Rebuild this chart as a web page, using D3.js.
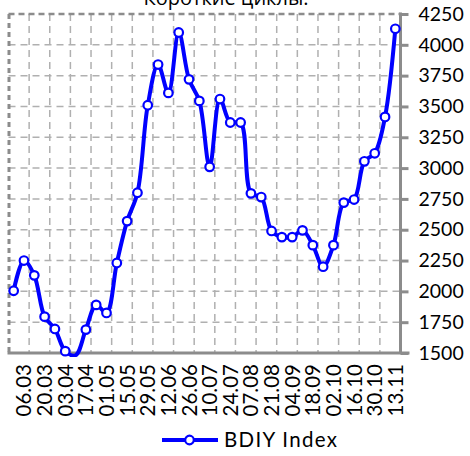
<!DOCTYPE html>
<html><head><meta charset="utf-8">
<script src="https://cdn.jsdelivr.net/npm/d3@7"></script>
<style>
html,body{margin:0;padding:0;background:#fff;}
svg{display:block;}
</style></head>
<body>
<svg id="chart" width="470" height="456"></svg>
<script>
const title = "Короткие циклы.";
const seriesName = "BDIY Index";
const dates = ["27.02","06.03","13.03","20.03","27.03","03.04","10.04","17.04","24.04","01.05",
  "08.05","15.05","22.05","29.05","05.06","12.06","19.06","26.06","03.07","10.07",
  "17.07","24.07","31.07","07.08","14.08","21.08","28.08","04.09","11.09","18.09",
  "25.09","02.10","09.10","16.10","23.10","30.10","06.11","13.11"];
const bdiy = [2005,2250,2130,1795,1695,1515,1482,1690,1890,1825,
  2230,2570,2800,3510,3840,3610,4100,3720,3545,3010,
  3560,3370,3370,2795,2765,2490,2440,2440,2495,2375,
  2200,2375,2720,2745,3055,3120,3415,4130];
const yTicks = [1500,1750,2000,2250,2500,2750,3000,3250,3500,3750,4000,4250];
const xLabels = dates.filter((d,i)=> i % 2 === 1);

const svg = d3.select("#chart");
const L = 8.5, R = 400.5, T = 14, B = 353;
const blue = "#0000ff", axisGray = "#8c8c8c", gridGray = "#b0b0b0";

const x = d3.scalePoint().domain(dates).range([L, R]).padding(0.5);
const y = d3.scaleLinear().domain([1500, 4250]).range([B, T]);
const step = x.step();

// title (partially cut off at top)
svg.append("text").attr("x", 226).attr("y", 4.5).attr("text-anchor","middle")
  .style("font-family","'Open Sans', sans-serif").style("font-size","20px").attr("fill","#000")
  .text(title);

// vertical grid lines at every 2nd category boundary
const vGrid = d3.range(0, dates.length + 1, 2).map(i => L + i * step);
svg.append("g").selectAll("line").data(vGrid.slice(1, -1)).join("line")
  .attr("x1", d=>d).attr("x2", d=>d).attr("y1", T).attr("y2", B)
  .attr("stroke", gridGray).attr("stroke-width", 1.5).attr("stroke-dasharray","7,5");

// horizontal grid lines
svg.append("g").selectAll("line").data(yTicks.slice(1, -1)).join("line")
  .attr("x1", L).attr("x2", R).attr("y1", d=>y(d)).attr("y2", d=>y(d))
  .attr("stroke", gridGray).attr("stroke-width", 1.5).attr("stroke-dasharray","7,5");

// top & left borders (dashed)
svg.append("line").attr("x1", L).attr("x2", R).attr("y1", y(4250)).attr("y2", y(4250))
  .attr("stroke", axisGray).attr("stroke-width", 2.5).attr("stroke-dasharray","6,4");
svg.append("line").attr("x1", L+0.5).attr("x2", L+0.5).attr("y1", T).attr("y2", B)
  .attr("stroke", axisGray).attr("stroke-width", 3).attr("stroke-dasharray","5,4");

// x axis line
svg.append("line").attr("x1", L - 1).attr("x2", R + 9).attr("y1", B).attr("y2", B)
  .attr("stroke", axisGray).attr("stroke-width", 3);

// right y axis
const yAxis = d3.axisRight(y).tickValues(yTicks).tickSize(8).tickPadding(10).tickFormat(d3.format("d"));
const ya = svg.append("g").attr("transform", `translate(${R},0)`).call(yAxis);
ya.select(".domain").attr("stroke", axisGray).attr("stroke-width", 3).attr("d", `M0,${T-1.5}V${B}`);
ya.selectAll(".tick line").attr("stroke", axisGray).attr("stroke-width", 3);
ya.selectAll(".tick text").attr("fill","#000")
  .style("font-family","Lato, 'Open Sans', sans-serif").style("font-size","19.5px");

// x labels (rotated)
const xa = svg.append("g");
xa.selectAll("text").data(xLabels).join("text")
  .attr("transform", d => `translate(${x(d) + 7.5},${B + 11}) rotate(-90)`)
  .attr("text-anchor","end")
  .style("font-family","Lato, 'Open Sans', sans-serif").style("font-size","20.5px").attr("fill","#000")
  .text(d=>d);

// line + markers
svg.append("defs").append("clipPath").attr("id","clip").append("rect")
  .attr("x", 0).attr("y", 0).attr("width", 470).attr("height", B + 4);
const pts = dates.map((d,i)=>({d, v: bdiy[i]}));
const line = d3.line().x(p=>x(p.d)).y(p=>y(p.v)).curve(d3.curveCatmullRom.alpha(0.5));
svg.append("path").datum(pts).attr("clip-path","url(#clip)")
  .attr("d", line).attr("fill","none").attr("stroke", blue).attr("stroke-width", 4)
  .attr("stroke-linejoin","round");
svg.append("g").selectAll("circle").data(pts.filter(p => p.v >= 1500)).join("circle")
  .attr("cx", p=>x(p.d)).attr("cy", p=>y(p.v)).attr("r", 4.3)
  .attr("fill","#fff").attr("stroke", blue).attr("stroke-width", 2.2);

// legend
const lg = svg.append("g").attr("transform","translate(0,440)");
lg.append("line").attr("x1",162).attr("x2",218).attr("y1",0).attr("y2",0)
  .attr("stroke", blue).attr("stroke-width", 4);
lg.append("circle").attr("cx",189.5).attr("cy",0).attr("r",4.3)
  .attr("fill","#fff").attr("stroke", blue).attr("stroke-width", 2.2);
lg.append("text").attr("x",224).attr("y",0).attr("dy","0.36em")
  .style("font-family","Lato, 'Open Sans', sans-serif").style("font-size","20.5px")
  .style("letter-spacing","1.3px").attr("fill","#000").text(seriesName);
</script>
</body></html>
